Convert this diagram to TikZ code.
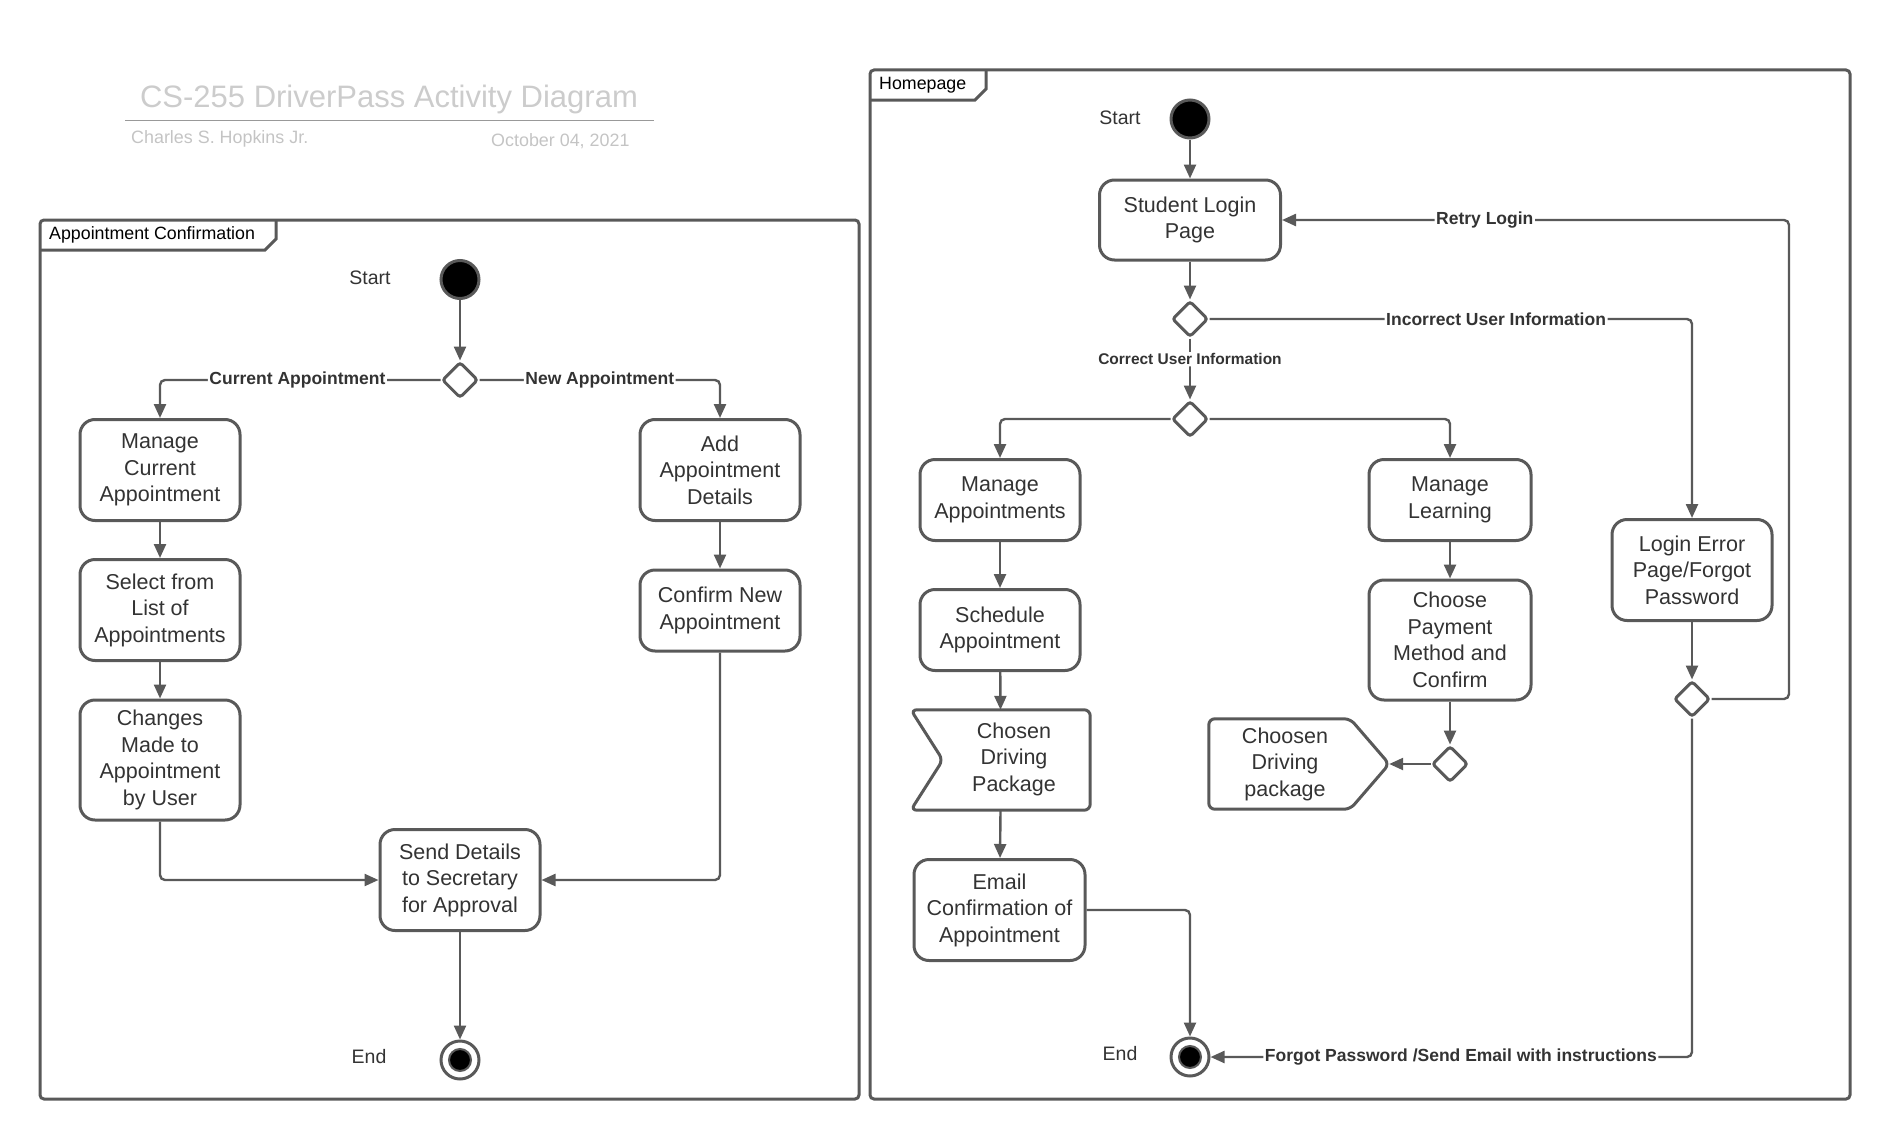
\documentclass[tikz,border=0pt]{standalone}
\usepackage{fontspec}
\setmainfont{Liberation Sans}
\usetikzlibrary{arrows.meta,shapes.geometric,calc}
\definecolor{ink}{HTML}{333333}
\definecolor{edgegray}{HTML}{595959}
\definecolor{titlegray}{HTML}{CCCCCC}
\definecolor{subgray}{HTML}{C4C4C4}
\begin{document}
\begin{tikzpicture}[x=1pt,y=-1pt,
  every node/.style={text=ink},
  act/.style={draw=edgegray, line width=3pt, rounded corners=15pt, fill=white,
    align=center, inner sep=0pt, minimum width=160pt, minimum height=101pt,
    font=\fontsize{21.5}{26.5}\selectfont},
  acttext/.style={align=center, inner sep=0pt, font=\fontsize{21.5}{26.5}\selectfont},
  sigline/.style={draw=edgegray, line width=3pt, rounded corners=6pt, fill=white},
  decision/.style={diamond, draw=edgegray, line width=3pt, fill=white, rounded corners=3pt,
    minimum width=36pt, minimum height=36pt, inner sep=0pt},
  initial/.style={circle, draw=edgegray, line width=3pt, fill=black, minimum size=38pt, inner sep=0pt},
  finalout/.style={circle, draw=edgegray, line width=3pt, fill=white, minimum size=38pt, inner sep=0pt},
  finalin/.style={circle, draw=edgegray, line width=2pt, fill=black, minimum size=22pt, inner sep=0pt},
  flow/.style={draw=edgegray, line width=2.4pt, rounded corners=5pt,
    -{Triangle[length=14pt,width=12pt]}},
  guard/.style={fill=white, inner sep=1.5pt, font=\bfseries\fontsize{17.5}{20}\selectfont},
  smallguard/.style={fill=white, inner sep=1.5pt, font=\bfseries\fontsize{15.5}{18}\selectfont},
  plain/.style={inner sep=0pt, font=\fontsize{19.5}{23}\selectfont},
  frame/.style={draw=edgegray, line width=3pt, rounded corners=4pt},
  tab/.style={draw=edgegray, line width=3pt},
  tablabel/.style={anchor=base west, inner sep=0pt, font=\fontsize{17.8}{21}\selectfont, text=black}
]
\useasboundingbox (0,0) rectangle (1890,1140);

% ---------------- title block ----------------
\node[anchor=base, inner sep=0pt, text=titlegray, font=\fontsize{31}{36}\selectfont] (title) at (389,107) {CS-255 DriverPass Activity Diagram};
\draw[draw=black!40, line width=1.5pt] (125,120.5) -- (654,120.5);
\node[anchor=base west, inner sep=0pt, text=subgray, font=\fontsize{17.9}{21}\selectfont] (author) at (131,143) {Charles S. Hopkins Jr.};
\node[anchor=base west, inner sep=0pt, text=subgray, font=\fontsize{17.9}{21}\selectfont] (date) at (491,146) {October 04, 2021};

% ---------------- frames ----------------
\draw[frame] (40,220) rectangle (859,1099);
\draw[tab] (40,250) -- (265,250) -- (276,239) -- (276,220);
\node[tablabel] (apptab) at (49,239) {Appointment Confirmation};

\draw[frame] (870,70) rectangle (1850,1099);
\draw[tab] (870,100) -- (975,100) -- (986,89) -- (986,70);
\node[tablabel] (hometab) at (879,89) {Homepage};

% ---------------- appointment confirmation ----------------
\node[initial] (lstart) at (460,279.5) {};
\node[plain] (lstartlbl) at (370,278) {Start};
\node[decision] (ldec) at (460,380) {};
\node[act] (mca) at (160,470) {Manage\\Current\\Appointment};
\node[act] (sla) at (160,610) {Select from\\List of\\Appointments};
\node[act, minimum height=120pt] (cmu) at (160,760) {Changes\\Made to\\Appointment\\by User};
\node[act] (aad) at (720,470) {Add\\Appointment\\Details};
\node[act, minimum height=81pt] (cna) at (720,610.5) {Confirm New\\Appointment};
\node[act] (sds) at (460,880) {Send Details\\to Secretary\\for Approval};
\node[finalout] (lend) at (460,1060) {};
\node[finalin] (lendin) at (lend) {};
\node[plain] (lendlbl) at (369,1057) {End};

\draw[flow] (lstart) -- (ldec);
\draw[flow] (ldec.west) -| node[guard, pos=0.255] {Current Appointment} (mca.north);
\draw[flow] (ldec.east) -| node[guard, pos=0.25] {New Appointment} (aad.north);
\draw[flow] (mca) -- (sla);
\draw[flow] (sla) -- (cmu);
\draw[flow] (aad) -- (cna);
\draw[flow] (cmu.south) |- (sds.west);
\draw[flow] (cna.south) |- (sds.east);
\draw[flow] (sds) -- (lend);

% ---------------- homepage ----------------
\node[initial] (rstart) at (1190,119) {};
\node[plain] (rstartlbl) at (1120,118) {Start};
\node[act, minimum width=181pt, minimum height=80pt] (slp) at (1190,220) {Student Login\\Page};
\node[decision] (d1) at (1190,319) {};
\node[decision] (d2) at (1190,419) {};
\node[act, minimum height=81pt] (ma) at (1000,500) {Manage\\Appointments};
\node[act, minimum height=81pt] (sa) at (1000,630) {Schedule\\Appointment};

% accept-signal action
\node[inner sep=0pt, minimum width=179pt, minimum height=100pt] (cdp) at (1000.5,760) {};
\path[sigline] (cdp.north west) -- (cdp.north east) -- (cdp.south east) -- (cdp.south west)
  -- ($(cdp.west)+(32,0)$) -- cycle;
\node[acttext] (cdptext) at (1014,759) {Chosen\\Driving\\Package};

\node[act, minimum width=171pt] (eca) at (999.5,910) {Email\\Confirmation of\\Appointment};
\node[finalout] (rend) at (1190,1057) {};
\node[finalin] (rendin) at (rend) {};
\node[plain] (rendlbl) at (1120,1054) {End};

\node[act, minimum width=162pt, minimum height=81pt] (ml) at (1450,500) {Manage\\Learning};
\node[act, minimum width=162pt, minimum height=120pt] (cpm) at (1450,640) {Choose\\Payment\\Method and\\Confirm};
\node[decision] (d3) at (1450,764) {};

% send-signal action
\node[inner sep=0pt, minimum width=180pt, minimum height=90pt] (sdp) at (1299,764) {};
\path[sigline] (sdp.north west) -- ($(sdp.north east)+(-39,0)$) -- (sdp.east)
  -- ($(sdp.south east)+(-39,0)$) -- (sdp.south west) -- cycle;
\node[acttext] (sdptext) at (1285,764) {Choosen\\Driving\\package};

\node[act] (lep) at (1692,570) {Login Error\\Page/Forgot\\Password};
\node[decision] (d4) at (1692,699) {};
\coordinate (retryturn) at (1789,699);

\draw[flow] (rstart) -- (slp);
\draw[flow] (slp) -- (d1);
\draw[flow] (d1) -- node[smallguard, pos=0.34] {Correct User Information} (d2);
\draw[flow] (d1.east) -| node[guard, pos=0.297] {Incorrect User Information} (lep.north);
\draw[flow] (d2.west) -| (ma.north);
\draw[flow] (d2.east) -| (ml.north);
\draw[flow] (ma) -- (sa);
\draw[flow] (sa) -- (cdp.north);
\draw[flow] (cdp.south) -- (eca);
\draw[flow] (eca.east) -| (rend.north);
\draw[flow] (ml) -- (cpm);
\draw[flow] (cpm) -- (d3);
\draw[flow] (d3.west) -- (sdp.east);
\draw[flow] (lep) -- (d4);
\draw[flow] (d4.east) -- (retryturn) |- node[guard, pos=0.8] {Retry Login} (slp.east);
\draw[flow] (d4.south) |- node[guard, pos=0.74] {Forgot Password /Send Email with instructions} (rend.east);
\end{tikzpicture}
\end{document}
